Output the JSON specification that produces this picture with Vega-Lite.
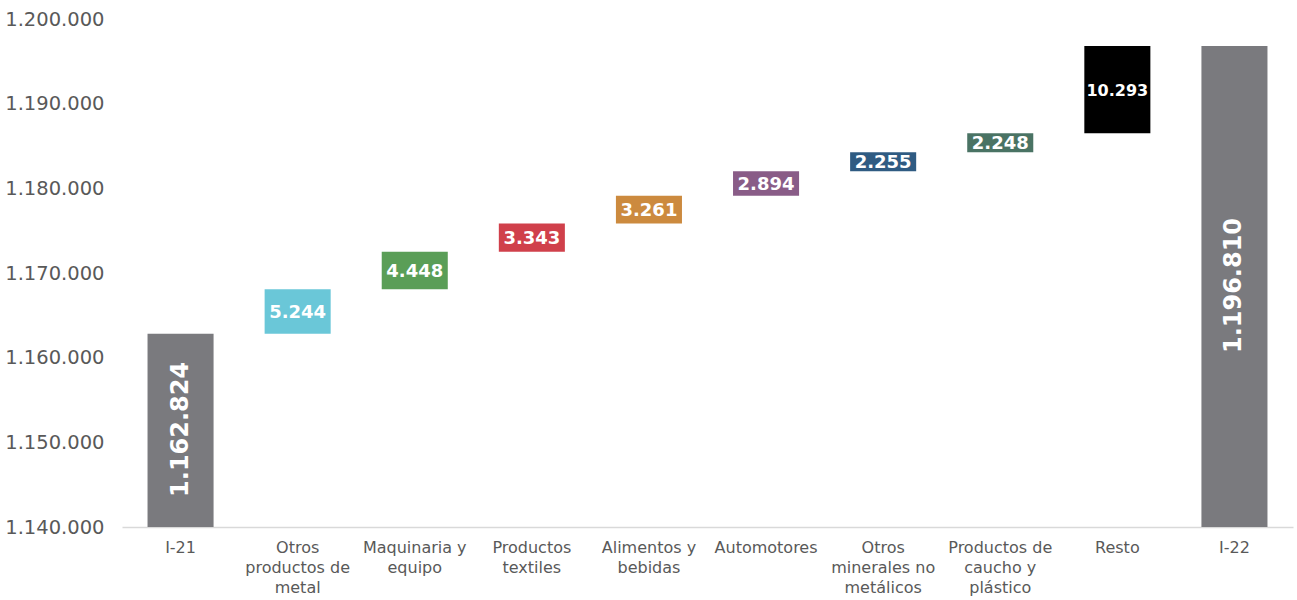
{
  "$schema": "https://vega.github.io/schema/vega-lite/v6.json",
  "width": 1171,
  "height": 508,
  "autosize": {"type": "none"},
  "padding": {"left": 122, "top": 19, "right": 4, "bottom": 73},
  "background": "white",
  "config": {
    "view": {"stroke": null},
    "font": "DejaVu Sans",
    "locale": {"number": {"decimal": ",", "thousands": ".", "grouping": [3], "currency": ["", " €"]}}
  },
  "data": {
    "values": [
      {"cat": "I-21", "kind": "total", "lo": null, "hi": 1162824, "amount": 1162824},
      {"cat": "Otros productos de metal", "kind": "delta", "lo": 1162824, "hi": 1168068, "amount": 5244},
      {"cat": "Maquinaria y equipo", "kind": "delta", "lo": 1168068, "hi": 1172516, "amount": 4448},
      {"cat": "Productos textiles", "kind": "delta", "lo": 1172516, "hi": 1175859, "amount": 3343},
      {"cat": "Alimentos y bebidas", "kind": "delta", "lo": 1175859, "hi": 1179120, "amount": 3261},
      {"cat": "Automotores", "kind": "delta", "lo": 1179120, "hi": 1182014, "amount": 2894},
      {"cat": "Otros minerales no metálicos", "kind": "delta", "lo": 1182014, "hi": 1184269, "amount": 2255},
      {"cat": "Productos de caucho y plástico", "kind": "delta", "lo": 1184269, "hi": 1186517, "amount": 2248},
      {"cat": "Resto", "kind": "resto", "lo": 1186517, "hi": 1196810, "amount": 10293},
      {"cat": "I-22", "kind": "total", "lo": null, "hi": 1196810, "amount": 1196810}
    ]
  },
  "encoding": {
    "x": {
      "field": "cat",
      "type": "nominal",
      "sort": ["I-21", "Otros productos de metal", "Maquinaria y equipo", "Productos textiles", "Alimentos y bebidas", "Automotores", "Otros minerales no metálicos", "Productos de caucho y plástico", "Resto", "I-22"],
      "title": null,
      "scale": {"domain": ["I-21", "Otros productos de metal", "Maquinaria y equipo", "Productos textiles", "Alimentos y bebidas", "Automotores", "Otros minerales no metálicos", "Productos de caucho y plástico", "Resto", "I-22"], "paddingInner": 0.436, "paddingOuter": 0.218},
      "axis": {
        "labelAngle": 0,
        "labelFontSize": 16,
        "labelColor": "#595959",
        "labelLineHeight": 20,
        "labelPadding": 12,
        "ticks": false,
        "domainColor": "#d9d9d9",
        "domainWidth": 1.5,
        "labelExpr": "{'Otros productos de metal': ['Otros', 'productos de', 'metal'], 'Maquinaria y equipo': ['Maquinaria y', 'equipo'], 'Productos textiles': ['Productos', 'textiles'], 'Alimentos y bebidas': ['Alimentos y', 'bebidas'], 'Otros minerales no metálicos': ['Otros', 'minerales no', 'metálicos'], 'Productos de caucho y plástico': ['Productos de', 'caucho y', 'plástico']}[datum.label] || datum.label"
      }
    }
  },
  "layer": [
    {
      "transform": [{"filter": "datum.kind === 'total'"}],
      "mark": {"type": "bar", "clip": true, "color": "#7a7a7e"},
      "encoding": {
        "y": {
          "field": "hi",
          "type": "quantitative",
          "title": null,
          "scale": {"domain": [1140000, 1200000], "zero": false, "nice": false},
          "axis": {
            "values": [1140000, 1150000, 1160000, 1170000, 1180000, 1190000, 1200000],
            "format": ",d",
            "labelFontSize": 19.5,
            "labelColor": "#595959",
            "ticks": false,
            "domain": false,
            "grid": false,
            "labelPadding": 18
          }
        }
      }
    },
    {
      "transform": [{"filter": "datum.kind !== 'total'"}],
      "mark": {"type": "bar", "clip": true},
      "encoding": {
        "y": {"field": "lo", "type": "quantitative"},
        "y2": {"field": "hi"},
        "color": {
          "field": "cat",
          "type": "nominal",
          "legend": null,
          "scale": {
            "domain": ["Otros productos de metal", "Maquinaria y equipo", "Productos textiles", "Alimentos y bebidas", "Automotores", "Otros minerales no metálicos", "Productos de caucho y plástico", "Resto"],
            "range": ["#6ac7d8", "#5a9e57", "#d0404b", "#cc8a3e", "#895c87", "#2f5b82", "#4a7364", "#000000"]
          }
        }
      }
    },
    {
      "transform": [{"filter": "datum.kind === 'delta'"}, {"calculate": "(datum.lo + datum.hi) / 2", "as": "mid"}],
      "mark": {"type": "text", "color": "white", "fontWeight": "bold", "fontSize": 18, "baseline": "middle", "align": "center", "dy": 1},
      "encoding": {
        "y": {"field": "mid", "type": "quantitative"},
        "text": {"field": "amount", "type": "quantitative", "format": ",d"}
      }
    },
    {
      "transform": [{"filter": "datum.kind === 'resto'"}, {"calculate": "(datum.lo + datum.hi) / 2", "as": "mid"}],
      "mark": {"type": "text", "color": "white", "fontWeight": "bold", "fontSize": 16, "baseline": "middle", "align": "center", "dy": 1},
      "encoding": {
        "y": {"field": "mid", "type": "quantitative"},
        "text": {"field": "amount", "type": "quantitative", "format": ",d"}
      }
    },
    {
      "transform": [{"filter": "datum.kind === 'total'"}, {"calculate": "(1140000 + datum.hi) / 2", "as": "mid"}],
      "mark": {"type": "text", "color": "white", "fontWeight": "bold", "fontSize": 24, "baseline": "middle", "align": "center", "angle": 270, "dx": 1},
      "encoding": {
        "y": {"field": "mid", "type": "quantitative"},
        "text": {"field": "amount", "type": "quantitative", "format": ",d"}
      }
    }
  ]
}
